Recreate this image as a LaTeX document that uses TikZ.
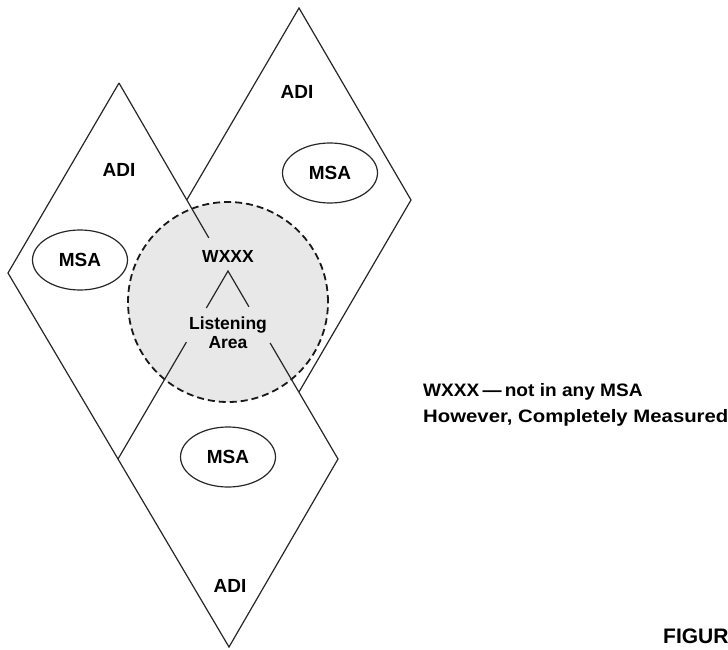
\documentclass[tikz,border=0pt]{standalone}
\usepackage{fontspec}
\setmainfont{Liberation Sans}
\usetikzlibrary{calc,shapes.geometric}
\begin{document}
\begin{tikzpicture}[x=1pt,y=-1pt,
  edge/.style={line width=1.2pt,draw=black!85},
  msa/.style={ellipse,draw=black!85,line width=1.2pt,minimum width=95pt,minimum height=60pt,inner sep=0pt,font=\bfseries\fontsize{19}{19}\selectfont},
  lbl/.style={font=\bfseries\fontsize{19}{19}\selectfont,inner sep=0pt},
  note/.style={font=\bfseries\fontsize{18}{18}\selectfont,inner sep=0pt,anchor=west},
  area/.style={draw=black!90,fill=black!9,line width=1.8pt,dash pattern=on 7pt off 4pt}]
\useasboundingbox (0,0) rectangle (728,650);

% listening area of the station
\node[circle,area,minimum size=200pt,inner sep=0pt] (listen) at (228,302) {};

% vertices of the three ADI diamonds
\coordinate (lt) at (119,83);   % left ADI
\coordinate (ll) at (8,273);
\coordinate (bl) at (118,459);  % bottom ADI
\coordinate (br) at (338,459);
\coordinate (bb) at (229,647);
\coordinate (bt) at (228,271);
\coordinate (rt) at (299,8);    % right ADI
\coordinate (rr) at (411,200);
\coordinate (rb) at (299,392);
\coordinate (rl) at ($(lt)!0.622!(bt)$);

% outer outlines
\draw[edge] (lt) -- (ll) -- (bl) -- (bb) -- (br) -- ($(br)!0.617!(bt)$);
\draw[edge] (lt) -- ($(lt)!0.824!(bt)$);
\draw[edge] (bl) -- ($(bl)!0.622!(bt)$);
\draw[edge] (rl) -- (rt) -- (rr) -- (rb);
\draw[edge] ($(bt)!0.197!(bl)$) -- (bt) -- ($(bt)!0.19!(br)$);

% labels
\node[lbl] (adil) at (119,170) {ADI};
\node[lbl] (adir) at (297,92) {ADI};
\node[lbl] (adib) at (230,586) {ADI};
\node[msa] (msal) at (80,260) {MSA};
\node[msa] (msar) at (330,173) {MSA};
\node[msa] (msab) at (228,457) {MSA};
\node[lbl,font=\bfseries\fontsize{17.5}{17.5}\selectfont] (wxxx) at (228,256) {WXXX};
\node[lbl,align=center,font=\bfseries\fontsize{17.5}{19}\selectfont] (la) at (228,333) {Listening\\Area};

\node[note] (n1) at (423,392) {\scalebox{1.06}[1]{WXXX\,---\,not in any MSA}};
\node[note] (n2) at (423,418) {\scalebox{1.13}[1]{However, Completely Measured}};
\node[font=\bfseries\fontsize{21}{21}\selectfont,inner sep=0pt,anchor=west] (fig) at (663,636) {FIGUR};
\end{tikzpicture}
\end{document}
